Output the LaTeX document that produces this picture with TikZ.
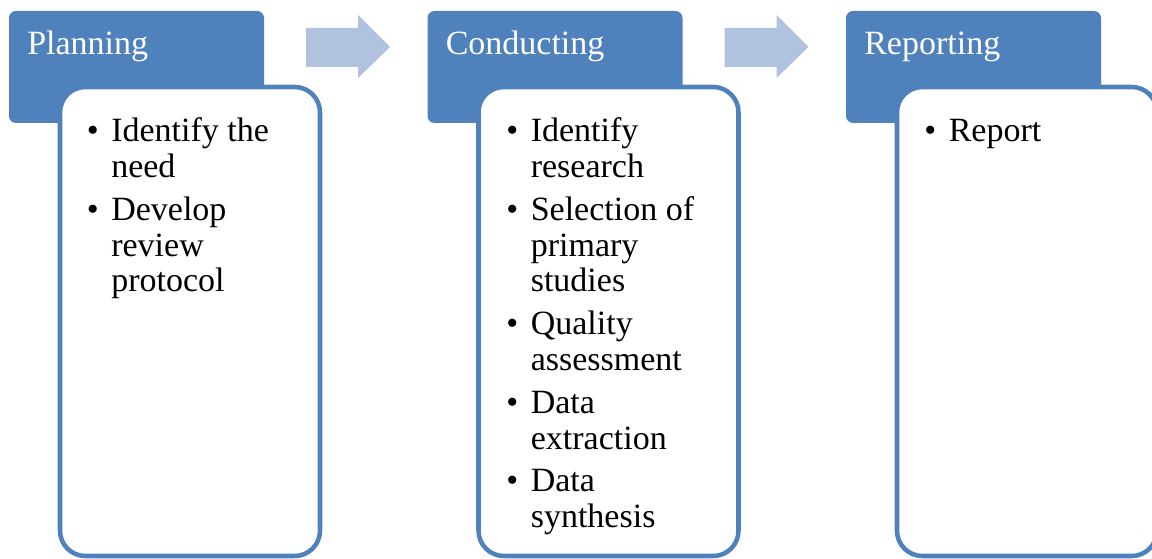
\documentclass[tikz,border=0pt]{standalone}
\usepackage{fontspec}
\setmainfont{Liberation Serif}
\definecolor{hdrblue}{RGB}{79,129,189}
\definecolor{arrblue}{RGB}{176,194,222}
\newcommand\bulletline[1]{\hbox{\makebox[18.4pt][l]{\textbullet}#1}}
\newcommand\contline[1]{\hbox{\hspace*{18.4pt}#1}}
\newcommand\itemgap{\vskip5.3pt}
\tikzset{
  hdr/.style={fill=hdrblue, draw=none, rounded corners=5.25pt},
  bodybox/.style={fill=white, draw=hdrblue, line width=3.4pt, rounded corners=19pt},
  hdrtext/.style={anchor=base west, inner sep=0pt, text=white, font=\fontsize{25.5}{26.8}\selectfont},
  bodytext/.style={anchor=base west, inner sep=0pt, text=black, font=\fontsize{25.5}{26.8}\selectfont},
  flowarrow/.style={fill=arrblue, draw=none}
}
\begin{document}
\begin{tikzpicture}[x=0.75pt, y=-0.75pt]
\useasboundingbox (0,0) rectangle (1152,559);
\clip (0,0) rectangle (1152,559);
% panels
\foreach \o/\n in {0/1, 418.5/2, 837/3} {
  \begin{scope}[xshift=\o*0.75pt]
    \draw[hdr] (9,11) rectangle (264,123);
    \draw[bodybox] (60,87) rectangle (320,556);
  \end{scope}
}
% arrows
\fill[flowarrow] (306,28) -- (358,28) -- (358,15) -- (390,47) -- (358,78) -- (358,67) -- (306,67) -- cycle;
\fill[flowarrow] (724.5,28) -- (776.5,28) -- (776.5,15) -- (808.5,47) -- (776.5,78) -- (776.5,67) -- (724.5,67) -- cycle;
% header texts
\node[hdrtext] (h1) at (27,55) {Planning};
\node[hdrtext] (h2) at (445.5,55) {Conducting};
\node[hdrtext] (h3) at (864,55) {Reporting};
% body texts
\node[bodytext] (b1) at (86.5,142) {\vtop{%
  \bulletline{Identify the}\contline{need}\itemgap
  \bulletline{Develop}\contline{review}\contline{protocol}}};
\node[bodytext] (b2) at (506,142) {\vtop{%
  \bulletline{Identify}\contline{research}\itemgap
  \bulletline{Selection of}\contline{primary}\contline{studies}\itemgap
  \bulletline{Quality}\contline{assessment}\itemgap
  \bulletline{Data}\contline{extraction}\itemgap
  \bulletline{Data}\contline{synthesis}}};
\node[bodytext] (b3) at (924,142) {\vtop{%
  \bulletline{Report}}};
\end{tikzpicture}
\end{document}
